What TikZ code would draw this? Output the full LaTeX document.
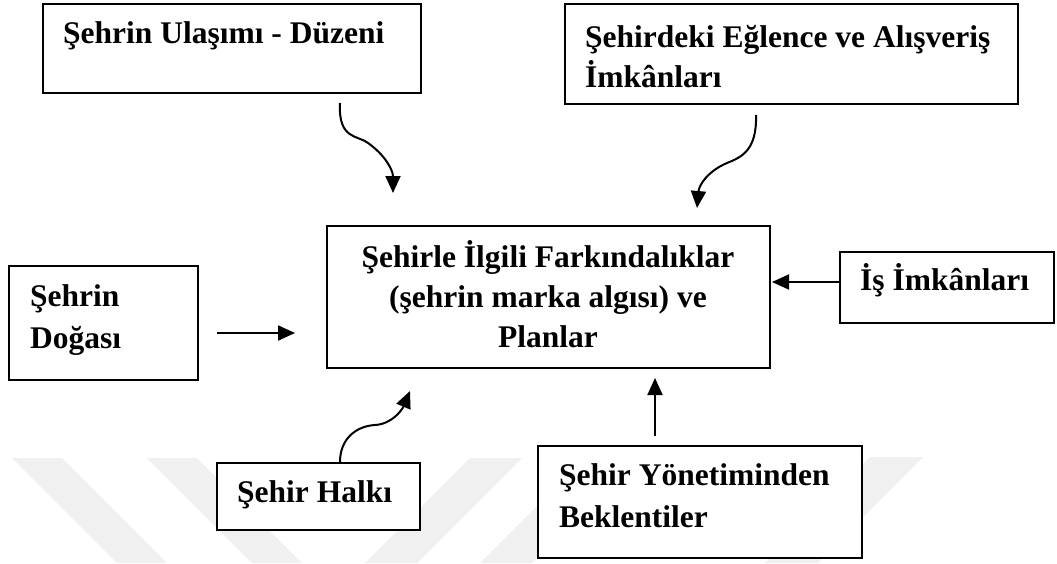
\documentclass[tikz,border=0pt]{standalone}
\usepackage{fontspec}
\setmainfont{Liberation Serif}
\usetikzlibrary{arrows.meta}
\begin{document}
\begin{tikzpicture}[x=1pt,y=-1pt,
  box/.style={draw=black, line width=1.8pt, fill=white, inner sep=0pt, anchor=north west},
  lbl/.style={inner sep=0pt, font=\fontsize{31.5}{40}\selectfont\bfseries},
  lbl2/.style={inner sep=0pt, font=\fontsize{31.5}{41.5}\selectfont\bfseries},
  arr/.style={line width=2pt, -{Triangle[length=17pt,width=15pt]}},
  wm/.style={fill=black!6, draw=none}]
\useasboundingbox (0,0) rectangle (1057,563);
% faint watermark stripes
\fill[wm] (12,458) -- (62,458) -- (167,563) -- (117,563) -- cycle;
\fill[wm] (147,458) -- (197,458) -- (302,563) -- (252,563) -- cycle;
\fill[wm] (470,458) -- (522,458) -- (417,563) -- (365,563) -- cycle;
\fill[wm] (585,458) -- (637,458) -- (532,563) -- (480,563) -- cycle;
\fill[wm] (870,457) -- (923,457) -- (818,563) -- (765,563) -- cycle;
% boxes
\node[box, minimum width=378pt, minimum height=89pt] (b1) at (42,3) {};
\node[box, minimum width=453pt, minimum height=100pt] (b2) at (564,3) {};
\node[box, minimum width=443pt, minimum height=142pt] (bc) at (326,225) {};
\node[box, minimum width=189pt, minimum height=114pt] (bd) at (8,265) {};
\node[box, minimum width=214pt, minimum height=71pt] (bi) at (839,251) {};
\node[box, minimum width=203pt, minimum height=67pt] (bh) at (216,462) {};
\node[box, minimum width=324pt, minimum height=112pt] (by) at (537,445) {};
% labels (anchor base = baseline of the last line)
\node[lbl, anchor=base west] (t1) at (63,43) {Şehrin Ulaşımı - Düzeni};
\node[lbl, anchor=base west, align=left] (t2) at (585,87) {Şehirdeki Eğlence ve Alışveriş\\İmkânları};
\node[lbl, anchor=base, align=center] (tc) at (548,347) {Şehirle İlgili Farkındalıklar\\(şehrin marka algısı) ve\\Planlar};
\node[lbl2, anchor=base west, align=left] (td) at (30,348) {Şehrin\\Doğası};
\node[lbl, anchor=base west] (ti) at (860,290) {İş İmkânları};
\node[lbl, anchor=base west] (th) at (237,502) {Şehir Halkı};
\node[lbl2, anchor=base west, align=left] (ty) at (559,527) {Şehir Yönetiminden\\Beklentiler};
% connector ends
\coordinate (a1s) at (340,103); \coordinate (a1e) at (393,193);
\coordinate (a2s) at (756,115); \coordinate (a2e) at (697,208);
\coordinate (a3s) at (217,333); \coordinate (a3e) at (295,333);
\coordinate (a4s) at (839,282); \coordinate (a4e) at (772,282);
\coordinate (a5s) at (340,462); \coordinate (a5e) at (410,391);
\coordinate (a6s) at (655,436); \coordinate (a6e) at (655,378);
% connectors
\draw[arr] (a1s) .. controls (338,140) and (358,135) .. (368,143) .. controls (385,155) and (393,170) .. (a1e);
\draw[arr] (a2s) .. controls (757,150) and (742,157) .. (727,163) .. controls (708,171) and (699,185) .. (a2e);
\draw[arr] (a3s) -- (a3e);
\draw[arr] (a4s) -- (a4e);
\draw[arr] (a5s) .. controls (340,438) and (357,426) .. (375,425) .. controls (392,424) and (402,410) .. (a5e);
\draw[arr] (a6s) -- (a6e);
\end{tikzpicture}
\end{document}
